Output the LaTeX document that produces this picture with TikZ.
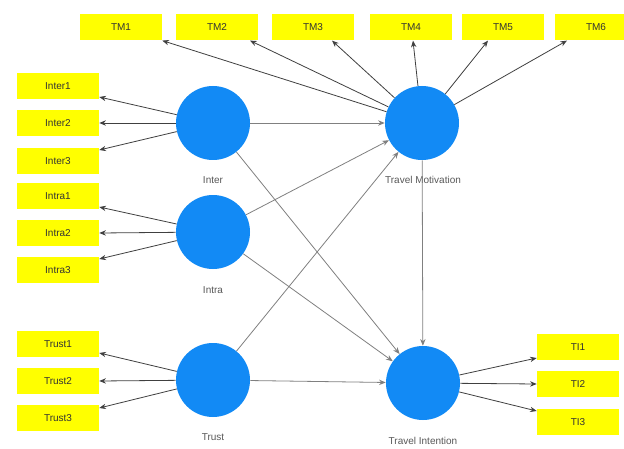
\documentclass[tikz,border=0pt]{standalone}
\usepackage{fontspec}
\setmainfont{Liberation Sans}
\usetikzlibrary{arrows.meta,calc}
\definecolor{boxyellow}{RGB}{255,255,0}
\definecolor{lvblue}{RGB}{18,138,245}
\begin{document}
\begin{tikzpicture}[x=0.75pt,y=-0.75pt,
 ind/.style={fill=boxyellow,minimum width=61.5pt,minimum height=20pt,inner sep=0pt,font=\fontsize{7.5}{9}\selectfont,text=black!80},
 lv/.style={circle,fill=lvblue,minimum size=55.5pt,inner sep=0pt},
 lvlab/.style={font=\fontsize{7.5}{9}\selectfont,text=black!65},
 load/.style={draw=black!75,line width=0.6pt,-{Stealth[length=5pt,width=4pt]}},
 struct/.style={draw=black!50,line width=0.6pt,-{Stealth[length=5pt,width=4pt]}}]
\useasboundingbox[fill=white] (0,0) rectangle (624,449);

% latent variables
\node[lv] (inter) at (213,123) {};
\node[lv] (intra) at (213,232) {};
\node[lv] (trust) at (213,380) {};
\node[lv] (tm) at (422,123) {};
\node[lv] (ti) at (423,383) {};

\node[lvlab] (interl) at (213,180) {Inter};
\node[lvlab] (intral) at (213,290) {Intra};
\node[lvlab] (trustl) at (213,437) {Trust};
\node[lvlab] (tml) at (423,180) {Travel Motivation};
\node[lvlab] (til) at (423,441) {Travel Intention};

% indicators
\node[ind] (tm1) at (121,27) {TM1};
\node[ind] (tm2) at (217,27) {TM2};
\node[ind] (tm3) at (313,27) {TM3};
\node[ind] (tm4) at (411,27) {TM4};
\node[ind] (tm5) at (503,27) {TM5};
\node[ind] (tm6) at (596,27) {TM6};

\node[ind] (i1) at (58,86) {Inter1};
\node[ind] (i2) at (58,123) {Inter2};
\node[ind] (i3) at (58,161) {Inter3};
\node[ind] (a1) at (58,196) {Intra1};
\node[ind] (a2) at (58,233) {Intra2};
\node[ind] (a3) at (58,270) {Intra3};
\node[ind] (t1) at (58,344) {Trust1};
\node[ind] (t2) at (58,381) {Trust2};
\node[ind] (t3) at (58,418) {Trust3};

\node[ind] (ti1) at (578,347) {TI1};
\node[ind] (ti2) at (578,384) {TI2};
\node[ind] (ti3) at (578,422) {TI3};

% structural paths
\draw[struct] (inter) -- (tm);
\draw[struct] (inter) -- (ti);
\draw[struct] (intra) -- (tm);
\draw[struct] (intra) -- (ti);
\draw[struct] (trust) -- (tm);
\draw[struct] (trust) -- (ti);
\draw[struct] (tm) -- (ti);

% loadings
\draw[load] (inter) -- ($(i1.east)+(0,11)$);
\draw[load] (inter) -- (i2.east);
\draw[load] (inter) -- ($(i3.east)+(0,-11)$);
\draw[load] (intra) -- ($(a1.east)+(0,11)$);
\draw[load] (intra) -- (a2.east);
\draw[load] (intra) -- ($(a3.east)+(0,-11)$);
\draw[load] (trust) -- ($(t1.east)+(0,9)$);
\draw[load] (trust) -- (t2.east);
\draw[load] (trust) -- ($(t3.east)+(0,-10)$);
\draw[load] (ti) -- ($(ti1.west)+(0,11)$);
\draw[load] (ti) -- (ti2.west);
\draw[load] (ti) -- ($(ti3.west)+(0,-11)$);
\draw[load] (tm) -- (tm1.south east);
\draw[load] (tm) -- ($(tm2.south)+(33,0)$);
\draw[load] (tm) -- ($(tm3.south)+(19,0)$);
\draw[load] (tm) -- ($(tm4.south)+(2,0)$);
\draw[load] (tm) -- ($(tm5.south)+(-15,0)$);
\draw[load] (tm) -- ($(tm6.south)+(-29,0)$);
\end{tikzpicture}
\end{document}
